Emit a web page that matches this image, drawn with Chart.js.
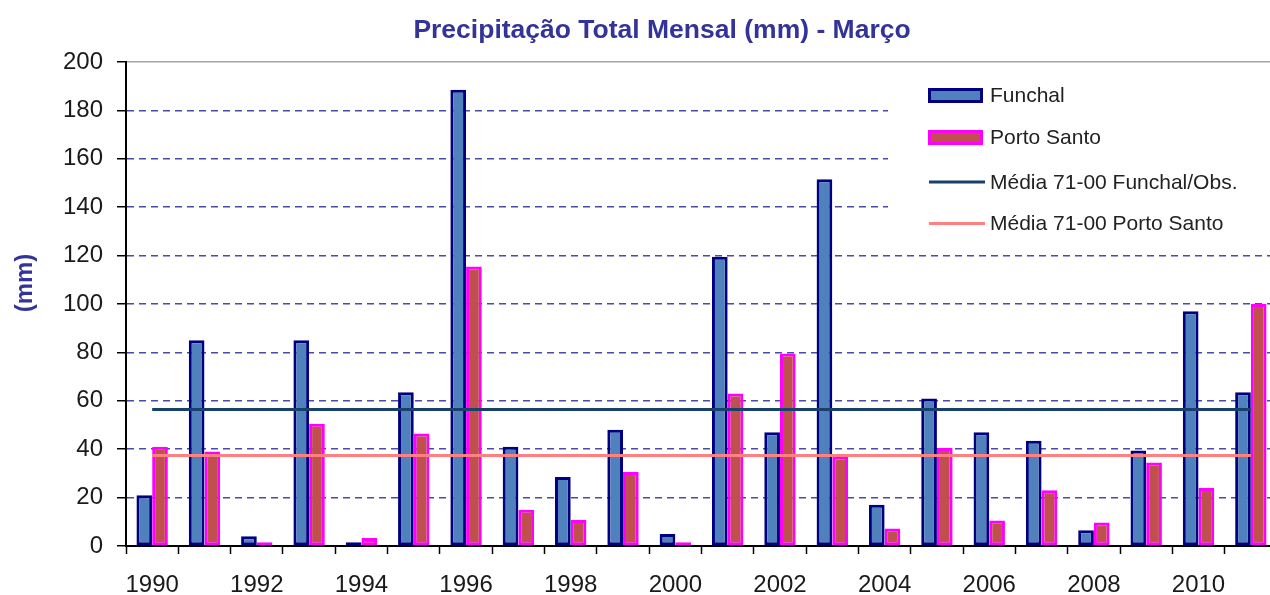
<!DOCTYPE html>
<html>
<head>
<meta charset="utf-8">
<script src="https://cdn.jsdelivr.net/npm/chart.js@4"></script>
<style>
  html, body { margin: 0; padding: 0; overflow: hidden; background: #fff; }
  #grafico { display: block; }
</style>
</head>
<body>
<canvas id="grafico" width="1290" height="595"></canvas>
<script>
'use strict';

var anos = ['1990','1991','1992','1993','1994','1995','1996','1997','1998','1999','2000',
            '2001','2002','2003','2004','2005','2006','2007','2008','2009','2010','2011'];

var funchal    = [21, 85, 4, 85, 1.5, 63.5, 188.5, 41, 28.5, 48, 5,
                  119.5, 47, 151.5, 17, 61, 47, 43.5, 6.5, 39.5, 97, 63.5];
var portoSanto = [41, 39, 1.5, 50.5, 3.3, 46.5, 115.5, 15, 10.7, 30.6, 1.6,
                  63, 79.5, 37, 7.2, 40.5, 10.5, 23, 9.7, 34.5, 24, 100];

var mediaFunchal    = 56.4;
var mediaPortoSanto = 37.4;

var titulo = 'Precipitação Total Mensal (mm) - Março';
var tituloEixoY = '(mm)';

var fonte = 'Liberation Sans';
var corTitulo = '#333399';

// legenda, titulo e "(mm)" desenhados por cima
var extras = {
  id: 'extras',
  afterDraw: function (chart) {
    var ctx = chart.ctx;
    ctx.save();

    ctx.fillStyle = corTitulo;
    ctx.font = 'bold 26.5px "' + fonte + '"';
    ctx.textAlign = 'center';
    ctx.textBaseline = 'middle';
    ctx.fillText(titulo, 662, 31);

    ctx.save();
    ctx.translate(25, 283);
    ctx.rotate(-Math.PI / 2);
    ctx.font = 'bold 24px "' + fonte + '"';
    ctx.fillText(tituloEixoY, 0, 0);
    ctx.restore();

    // caixa da legenda
    ctx.fillStyle = '#fff';
    ctx.fillRect(888, 68, 402, 176);

    var linhasY = [95.5, 137.5, 182, 223.5];
    ctx.font = '21px "' + fonte + '"';
    ctx.textAlign = 'left';
    chart.data.datasets.forEach(function (ds, i) {
      var y = linhasY[i];
      if (ds.type === 'line') {
        ctx.strokeStyle = ds.borderColor;
        ctx.lineWidth = ds.borderWidth;
        ctx.beginPath();
        ctx.moveTo(929, y);
        ctx.lineTo(985, y);
        ctx.stroke();
      } else {
        ctx.fillStyle = ds.borderColor;
        ctx.fillRect(928, y - 7.5, 55, 15);
        ctx.fillStyle = ds.backgroundColor;
        ctx.fillRect(931, y - 4.5, 49, 9);
      }
      ctx.fillStyle = '#222';
      ctx.fillText(ds.label, 990, y + 1);
    });

    ctx.restore();
  }
};

var ctx = document.getElementById('grafico');

var chart = new Chart(ctx, {
  type: 'bar',
  data: {
    labels: anos,
    datasets: [
      {
        label: 'Funchal',
        data: funchal,
        backgroundColor: '#4f81bd',
        borderColor: '#000080',
        borderWidth: 3,
        borderSkipped: false,
        categoryPercentage: 0.6,
        barPercentage: 1,
        order: 1
      },
      {
        label: 'Porto Santo',
        data: portoSanto,
        backgroundColor: '#c0504d',
        borderColor: '#ff00ff',
        borderWidth: 3,
        borderSkipped: false,
        categoryPercentage: 0.6,
        barPercentage: 1,
        order: 1
      },
      {
        type: 'line',
        label: 'Média 71-00 Funchal/Obs.',
        data: [{x: anos[0], y: mediaFunchal}, {x: anos[anos.length - 1], y: mediaFunchal}],
        borderColor: '#17406d',
        borderWidth: 3,
        pointRadius: 0,
        fill: false,
        order: 0
      },
      {
        type: 'line',
        label: 'Média 71-00 Porto Santo',
        data: [{x: anos[0], y: mediaPortoSanto}, {x: anos[anos.length - 1], y: mediaPortoSanto}],
        borderColor: '#ff8080',
        borderWidth: 3,
        pointRadius: 0,
        fill: false,
        order: 0
      }
    ]
  },
  options: {
    responsive: false,
    animation: false,
    layout: { padding: { top: 62, right: 13, bottom: 0, left: 0 } },
    plugins: {
      legend: { display: false },
      title: { display: false },
      tooltip: { enabled: false }
    },
    scales: {
      x: {
        offset: true,
        grid: {
          offset: true,
          drawOnChartArea: false,
          drawTicks: true,
          tickLength: 8,
          tickColor: '#000',
          tickWidth: 1.5
        },
        border: { display: true, color: '#000', width: 2 },
        ticks: {
          autoSkip: false,
          maxRotation: 0,
          minRotation: 0,
          padding: 17,
          color: '#1a1a1a',
          font: { family: fonte, size: 24 },
          callback: function (valor, i) {
            return i % 2 === 0 ? this.getLabelForValue(valor) : '';
          }
        },
        afterFit: function (scale) { scale.height = 49; }
      },
      topo: {
        type: 'category',
        position: 'top',
        grid: { display: false, drawTicks: false },
        ticks: { display: false },
        border: { display: true, color: '#a6a6a6', width: 1.5 },
        afterFit: function (scale) { scale.height = 0; }
      },
      y: {
        min: 0,
        max: 200,
        ticks: {
          stepSize: 20,
          padding: 14,
          color: '#1a1a1a',
          font: { family: fonte, size: 24 }
        },
        grid: {
          color: function (c) {
            return (c.tick && (c.tick.value === 0 || c.tick.value === 200)) ? 'rgba(0,0,0,0)' : '#4a4aa8';
          },
          lineWidth: 1.5,
          tickColor: '#000',
          tickLength: 9,
          tickWidth: 1.5
        },
        border: { display: true, color: '#000', width: 2, dash: [7, 5] },
        afterFit: function (scale) { scale.width = 126; }
      }
    }
  },
  plugins: [extras]
});
</script>
</body>
</html>
